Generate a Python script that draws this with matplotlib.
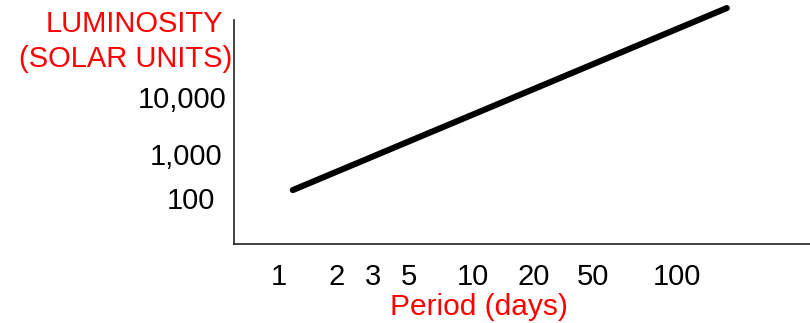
import matplotlib
matplotlib.use("Agg")
import matplotlib.pyplot as plt
from matplotlib.transforms import ScaledTranslation

# data
period_days = [1.2, 205]            # line end points (days)
luminosity = [160, 700000]          # solar units
x_ticks = [1, 2, 3, 5, 10, 20, 50, 100]
x_tick_labels = ["1", "2", "3", "5", "10", "20", "50", "100"]
y_ticks = [100, 1000, 10000]
y_tick_labels = ["100", "1,000", "10,000"]

W, H, DPI = 810, 323, 100
fig = plt.figure(figsize=(W / DPI, H / DPI), dpi=DPI)
fig.patch.set_facecolor("white")
plt.rcParams["font.family"] = ["Liberation Sans", "DejaVu Sans"]

left, right, top, bottom = 234, 810, 20, 244
ax = fig.add_axes([left / W, (H - bottom) / H, (right - left) / W, (bottom - top) / H])
ax.set_xscale("log")
ax.set_yscale("log")

# x: 194.4 px per decade, 1 at x=277.4
xl0 = (left - 277.4) / 194.4
xl1 = (right - 277.4) / 194.4
ax.set_xlim(10 ** xl0, 10 ** xl1)
# y: 50 px per decade, 1000 at y=150.3
yl0 = 3 - (bottom - 150.3) / 50
yl1 = 3 + (150.3 - top) / 50
ax.set_ylim(10 ** yl0, 10 ** yl1)

ax.plot(period_days, luminosity, color="black", lw=4.4, solid_capstyle="round", clip_on=False)

for s in ["top", "right"]:
    ax.spines[s].set_visible(False)
for s in ["left", "bottom"]:
    ax.spines[s].set_color("#222222")
    ax.spines[s].set_linewidth(1.2)

ax.xaxis.set_minor_locator(matplotlib.ticker.NullLocator())
ax.yaxis.set_minor_locator(matplotlib.ticker.NullLocator())
ax.set_xticks(x_ticks, x_tick_labels)
ax.set_yticks(y_ticks, y_tick_labels)
ax.tick_params(axis="x", length=0, pad=14, labelsize=21, colors="black")
ax.tick_params(axis="y", length=0, pad=8, labelsize=21, colors="black")

# schematic label nudges (pixels) to match the hand-drawn spacing
x_nudge = [1, 1, 3, -4, 1, 3, -15, 11]
y_nudge = [(-8, -2), (-1, 4), (4, -3)]   # order 100, 1000, 10000; (dx, dy) dy>0 = down
for lbl, dx in zip(ax.get_xticklabels(), x_nudge):
    lbl.set_transform(lbl.get_transform() + ScaledTranslation(dx / DPI, 0, fig.dpi_scale_trans))
for lbl, (dx, dy) in zip(ax.get_yticklabels(), y_nudge):
    lbl.set_transform(lbl.get_transform() + ScaledTranslation(dx / DPI, -dy / DPI, fig.dpi_scale_trans))

red = "#ff0000"
fig.text(479 / W, 1 - 307 / H, "Period (days)", color=red, fontsize=21.5, ha="center", va="center")
fig.text(134.5 / W, 1 - 24 / H, "LUMINOSITY", color=red, fontsize=21, ha="center", va="center")
fig.text(125.5 / W, 1 - 59 / H, "(SOLAR UNITS)", color=red, fontsize=21, ha="center", va="center")

fig.savefig("out.png", dpi=DPI, facecolor="white")
